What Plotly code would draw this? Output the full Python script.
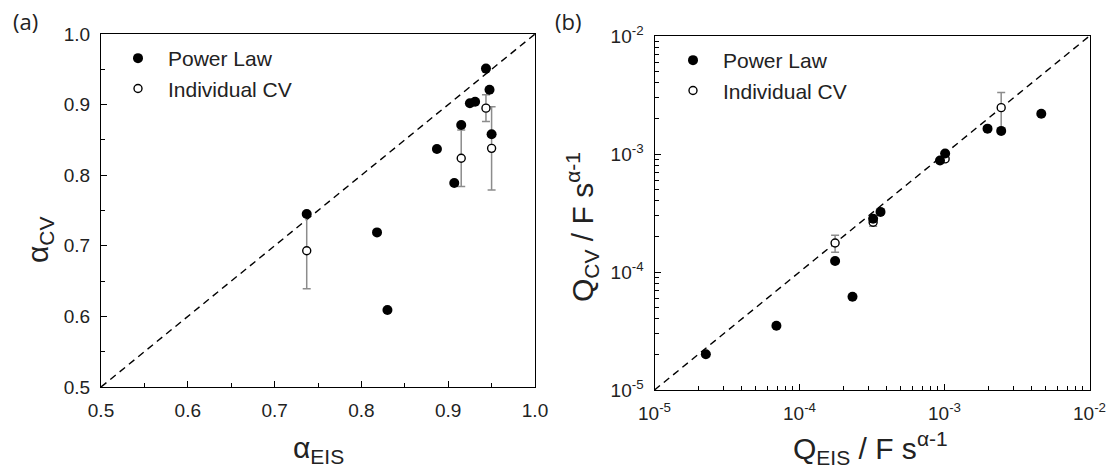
import plotly.graph_objects as go

# ---------------- data ----------------
# Panel (a): alpha
a_pl_x = [0.737, 0.818, 0.830, 0.887, 0.907, 0.915, 0.925, 0.931, 0.9435, 0.9476, 0.950]
a_pl_y = [0.745, 0.719, 0.609, 0.837, 0.789, 0.871, 0.902, 0.904, 0.951, 0.921, 0.858]
a_cv_x = [0.737, 0.915, 0.9435, 0.950]
a_cv_y = [0.693, 0.824, 0.895, 0.838]
a_cv_err = [0.054, 0.040, 0.019, 0.059]

# Panel (b): Q
b_pl_x = [2.26e-5, 6.93e-5, 1.76e-4, 2.32e-4, 3.22e-4, 3.62e-4, 9.31e-4, 1.01e-3, 1.98e-3, 2.46e-3, 4.65e-3]
b_pl_y = [2.01e-5, 3.50e-5, 1.24e-4, 6.17e-5, 2.83e-4, 3.23e-4, 8.80e-4, 1.01e-3, 1.64e-3, 1.57e-3, 2.19e-3]
b_cv_x = [1.76e-4, 3.22e-4, 1.01e-3, 2.46e-3]
b_cv_y = [1.76e-4, 2.64e-4, 9.09e-4, 2.47e-3]
b_cv_err = [0.29e-4, 0.20e-4, 0.4e-4, 0.85e-3]

a_ticks = [0.5, 0.6, 0.7, 0.8, 0.9, 1.0]
a_ticktext = ["0.5", "0.6", "0.7", "0.8", "0.9", "1.0"]
a_minor = [0.55, 0.65, 0.75, 0.85, 0.95]
b_ticks = [1e-5, 1e-4, 1e-3, 1e-2]
b_ticktext = ["10<sup>-5</sup>", "10<sup>-4</sup>", "10<sup>-3</sup>", "10<sup>-2</sup>"]
b_minor = [m * d for d in [1e-5, 1e-4, 1e-3] for m in range(2, 10)]

diag_a = [0.5, 1.0]
diag_b = [1e-5, 1e-2]

# ---------------- style ----------------
W, H = 1110, 468
FONT = "Liberation Sans, Arial, sans-serif"
TICKFONT = dict(family=FONT, size=19, color="#222")
LEGFONT = dict(family=FONT, size=21, color="#222")
TITLEFONT = dict(family=FONT, size=30, color="#222")

fig = go.Figure()

def add_panel(xa, ya, legend, dx, dy, plx, ply, cvx, cvy, cverr, errw):
    fig.add_trace(go.Scatter(x=dx, y=dy, mode="lines", xaxis=xa, yaxis=ya,
                             line=dict(color="black", width=1.4, dash="7px,5px"),
                             showlegend=False, hoverinfo="skip"))
    fig.add_trace(go.Scatter(x=cvx, y=cvy, mode="markers", xaxis=xa, yaxis=ya,
                             name="Individual CV", legend=legend, legendrank=2,
                             marker=dict(symbol="circle", size=8, color="white",
                                         line=dict(color="black", width=1.4)),
                             error_y=dict(type="data", array=cverr, visible=True,
                                          color="#8c8c8c", thickness=1.5, width=errw)))
    fig.add_trace(go.Scatter(x=plx, y=ply, mode="markers", xaxis=xa, yaxis=ya,
                             name="Power Law", legend=legend, legendrank=1,
                             marker=dict(symbol="circle", size=10, color="black",
                                         line=dict(width=0))))

add_panel("x", "y", "legend", diag_a, diag_a, a_pl_x, a_pl_y, a_cv_x, a_cv_y, a_cv_err, 4)
add_panel("x2", "y2", "legend2", diag_b, diag_b, b_pl_x, b_pl_y, b_cv_x, b_cv_y, b_cv_err, 4)

axis_common = dict(showline=True, linecolor="black", linewidth=1.3, mirror=True,
                   showgrid=False, zeroline=False, ticks="inside", ticklen=6,
                   tickwidth=1.2, tickcolor="black", tickfont=TICKFONT,
                   automargin=False, ticklabelstandoff=6)

minor_a = dict(tickmode="array", tickvals=a_minor, ticks="inside", ticklen=4,
               tickcolor="black", tickwidth=1.2, showgrid=False)
minor_b = dict(tickmode="array", tickvals=b_minor, ticks="inside", ticklen=4,
               tickcolor="black", tickwidth=1.2, showgrid=False)

fig.update_layout(
    width=W, height=H,
    margin=dict(l=0, r=0, t=0, b=0),
    paper_bgcolor="white", plot_bgcolor="white",
    xaxis=dict(domain=[101 / W, 535 / W], range=[0.5, 1.0], anchor="y",
               tickmode="array", tickvals=a_ticks, ticktext=a_ticktext,
               minor=minor_a, **axis_common),
    yaxis=dict(domain=[1 - 387 / H, 1 - 34 / H], range=[0.5, 1.0], anchor="x",
               tickmode="array", tickvals=a_ticks, ticktext=a_ticktext,
               minor=minor_a, **axis_common),
    xaxis2=dict(domain=[654.5 / W, 1089.5 / W], type="log", range=[-5, -2], anchor="y2",
                tickmode="array", tickvals=b_ticks, ticktext=b_ticktext,
                minor=minor_b, **axis_common),
    yaxis2=dict(domain=[1 - 390 / H, 1 - 36 / H], type="log", range=[-5, -2], anchor="x2",
                tickmode="array", tickvals=b_ticks, ticktext=b_ticktext,
                minor=minor_b, **axis_common),
    legend=dict(x=108 / W, y=1 - 38 / H, xanchor="left", yanchor="top",
                bgcolor="rgba(0,0,0,0)", borderwidth=0, font=LEGFONT,
                tracegroupgap=0, itemwidth=50),
    legend2=dict(x=663 / W, y=1 - 40 / H, xanchor="left", yanchor="top",
                 bgcolor="rgba(0,0,0,0)", borderwidth=0, font=LEGFONT,
                 tracegroupgap=0, itemwidth=50),
    showlegend=True,
)

annots = [
    dict(text="(a)", x=25 / W, y=1 - 21 / H, font=dict(family="Open Sans, sans-serif", size=22, color="#222")),
    dict(text="(b)", x=568 / W, y=1 - 21 / H, font=dict(family="Open Sans, sans-serif", size=22, color="#222")),
    dict(text="α<sub>CV</sub>", x=40 / W, y=1 - 240 / H, textangle=-90, font=TITLEFONT),
    dict(text="α<sub>EIS</sub>", x=318 / W, y=1 - 449 / H, font=TITLEFONT),
    dict(text="Q<sub>EIS</sub> / F s<sup>α-1</sup>", x=870 / W, y=1 - 448 / H, font=TITLEFONT),
    dict(text="Q<sub>CV</sub> / F s<sup>α-1</sup>", x=582 / W, y=1 - 227 / H, textangle=-90, font=TITLEFONT),
]
for a in annots:
    fig.add_annotation(xref="paper", yref="paper", xanchor="center", yanchor="middle",
                       showarrow=False, **a)

fig.write_html("out.html")
